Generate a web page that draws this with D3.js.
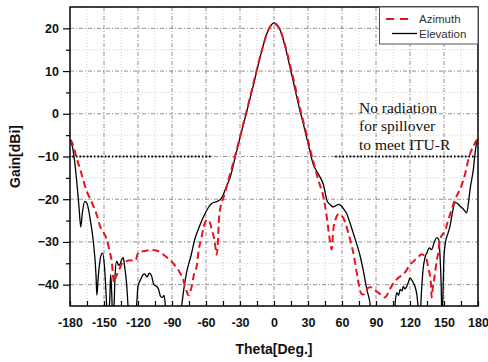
<!DOCTYPE html>
<html>
<head>
<meta charset="utf-8">
<script src="https://cdn.jsdelivr.net/npm/d3@7"></script>
<style>
  html, body { margin: 0; padding: 0; background: #fff; }
  svg { display: block; }
</style>
</head>
<body>
<svg id="chart" width="488" height="362"></svg>
<script>
// ---------- data ----------
const xTicks = [-180, -150, -120, -90, -60, -30, 0, 30, 60, 90, 120, 150, 180];
const yTicks = [-40, -30, -20, -10, 0, 10, 20];
const seriesNames = ["Azimuth", "Elevation"];

const elevTheta = [-180,-178,-176,-174,-172,-170.5,-169,-167,-165,-162,-159,-157,-156.3,-155,-153,-151.2,-149.5,-148,-147,-145,-144.1,-143.2,-142.3,-141,-140.3,-138.8,-137,-135.5,-134.4,-133,-132,-130,-128.5,-127,-123,-121,-120,-118,-115.3,-114,-112,-110,-108,-106,-104,-102,-100,-98.5,-97,-96,-95,-83,-81.5,-79,-77,-73,-70,-66,-62,-58,-55,-50,-47,-44.7,-42,-38.8,-34.4,-30,-24,-18,-12.4,-6.5,-3,0,2,5.3,8,11.2,14,17,20,23,26,28.8,31.5,34.7,37.6,40,43.5,47,49.4,52,54,57,59,62,64,67,70,73,76,79,82,84.5,86,106,107,108.3,110,111.2,113,114,115.5,116.5,118.5,120,121.5,123,124.5,126,127.5,128.5,130.5,131.5,133.2,135,137,139,141.4,143.5,145.3,146.5,147.5,148.2,149.3,150,151.8,153.5,155.3,157.5,159.7,162,164,167,170,171.5,173,175.9,177.5,179,180];
const elevGain = [-6,-7.5,-11,-16,-22,-26.5,-23,-20.5,-21,-25,-31,-38,-42.5,-38,-33.5,-32.6,-36,-43,-48,-44,-37.6,-42,-48,-44,-38.3,-34.5,-35.5,-35,-34.1,-33.7,-35.3,-40,-46,-48,-48,-44,-40.3,-39,-37.6,-37.5,-38.2,-37.3,-38,-40,-40.3,-41,-42.8,-43,-42.5,-44.5,-48,-48,-45,-40,-37,-33,-29.5,-26.5,-24,-22,-21,-20.5,-20,-18.9,-17,-15,-10.3,-5.6,0.6,6.9,13.1,18.6,20.6,21.3,21,19.7,17.5,14.3,11,7.6,4,0.6,-2.5,-5.6,-8.5,-11.9,-13.4,-14.5,-16.5,-20.5,-21.2,-21.8,-21.6,-21.2,-21.5,-22.5,-23.3,-25.5,-28,-30.5,-33.3,-37,-41.2,-44,-47,-47,-44,-41.9,-42.5,-41.1,-41.5,-40.4,-41,-40.7,-39.5,-38.4,-38.9,-39.6,-40.5,-42.3,-46,-48,-40,-36.5,-33.7,-32.5,-31.4,-31.8,-30.1,-29,-29.4,-33.3,-40,-48,-40,-33.3,-29.4,-28,-26.3,-23,-20.8,-21,-21.6,-22.3,-23.2,-21,-17.7,-13,-9,-6.5,-6];

const aziTheta = [-180,-178,-176,-174,-171,-168,-165.3,-162,-159.4,-156,-153.5,-150,-147.6,-144.7,-143.2,-142,-141.2,-140,-137.4,-135,-133,-130,-127,-124,-122,-120.5,-119,-116,-112,-108,-104,-100,-96,-92,-89,-86,-83,-80.5,-78.5,-76.5,-75.6,-74,-72.6,-70.5,-68.2,-66.5,-64,-62,-60,-58,-56.5,-54.5,-53,-51.5,-50.5,-49.5,-48.5,-47,-44.7,-42,-40,-37,-35,-32,-30,-27,-24,-21,-18,-15,-12,-9,-6,-3,0,3,6,9,12,15,18,21,24,27,30,33,36,39,41.5,43.5,45,46.5,48,49.5,50.9,52.3,54,55.3,57,58.2,61.2,63.5,65.6,68,70,71.5,73,74.5,76,77.5,79,81,83.3,85.5,87.7,90,93.6,96,98,100,102.4,104.5,106.8,110,114,117,120,123,126,128.5,130.3,133.2,134.7,136.2,137.6,138.5,139.1,140,142,143.5,144.9,146.5,148.5,150.9,153,155.3,157.5,159.7,162,164.1,166.5,168.5,170,171.5,173.5,175.9,178.8,180];
const aziGain = [-6,-6.8,-8.5,-10.5,-13,-15.8,-18.1,-20,-21.6,-24,-26.3,-28,-29.4,-32.6,-34.5,-38,-39.5,-38.5,-37,-35.5,-34.7,-34.5,-34.3,-34.4,-34.3,-33,-32.3,-32.2,-32,-31.9,-32,-32.5,-33.3,-34.2,-35,-36,-37.2,-38.5,-40.4,-42,-42.5,-41.8,-40.4,-37.5,-35.7,-32,-29,-26.5,-25,-24.8,-25.5,-27.5,-29,-31.5,-33,-30,-24.5,-21.6,-19.7,-17.3,-15.3,-12.5,-10.5,-7.5,-5.5,-2.3,0.8,4,7.3,10.5,13.6,16.5,19,20.6,21.1,20.6,19.3,16.8,13.8,10.5,7.2,3.5,0.2,-3,-6.2,-9.5,-12.5,-15.4,-17.5,-19.3,-21.5,-24,-27.1,-30,-31.8,-27.1,-25,-24,-23.5,-23.6,-24.4,-26,-27.9,-30.3,-32.6,-34.8,-37.2,-39.5,-41.5,-42.2,-42.3,-41.5,-40.7,-40.6,-41,-41.5,-42.2,-42.8,-43,-42.3,-41,-40,-39.2,-38.3,-37.6,-36.6,-35.3,-34.6,-33.7,-33.2,-32.9,-33.4,-34.1,-36.2,-37.8,-40,-43,-41,-37.5,-34.5,-32.6,-29.4,-28.3,-27.5,-25.5,-23.6,-21.8,-20.1,-18.8,-17.7,-16,-14.2,-12.5,-10.7,-9,-7.6,-6.2,-6];

const limitLevel = -10;
const limitRanges = [[-178, -54], [54, 178]];
const noteLines = ["No radiation", "for spillover", "to meet ITU-R"];

// ---------- layout ----------
const svg = d3.select("#chart");
const L = 70, R = 478, T = 7, B = 306;
const x = d3.scaleLinear().domain([-180, 180]).range([L, R]);
const y = d3.scaleLinear().domain([-45, 25]).range([B, T]);

svg.append("defs").append("clipPath").attr("id", "plotclip")
  .append("rect").attr("x", L).attr("y", T).attr("width", R - L).attr("height", B - T);

// minor grid
const gMinor = svg.append("g");
d3.range(-165, 180, 30).forEach(v => {
  gMinor.append("line").attr("x1", x(v)).attr("x2", x(v)).attr("y1", T).attr("y2", B)
    .attr("stroke", "#c4c4c4").attr("stroke-width", 0.8).attr("stroke-dasharray", "1,2");
});
d3.range(-35, 25, 10).forEach(v => {
  gMinor.append("line").attr("x1", L).attr("x2", R).attr("y1", y(v)).attr("y2", y(v))
    .attr("stroke", "#c4c4c4").attr("stroke-width", 0.8).attr("stroke-dasharray", "1,2");
});
// major grid
const gMajor = svg.append("g");
xTicks.slice(1, -1).forEach(v => {
  gMajor.append("line").attr("x1", x(v)).attr("x2", x(v)).attr("y1", T).attr("y2", B)
    .attr("stroke", "#777").attr("stroke-width", 0.8).attr("stroke-dasharray", "4,2,1,2");
});
yTicks.forEach(v => {
  gMajor.append("line").attr("x1", L).attr("x2", R).attr("y1", y(v)).attr("y2", y(v))
    .attr("stroke", "#777").attr("stroke-width", 0.8).attr("stroke-dasharray", "4,2,1,2");
});

// limit dotted lines
limitRanges.forEach(r => {
  svg.append("line").attr("x1", x(r[0])).attr("x2", x(r[1]))
    .attr("y1", y(limitLevel)).attr("y2", y(limitLevel))
    .attr("stroke", "#000").attr("stroke-width", 2.2).attr("stroke-dasharray", "1.6,2");
});

// curves
const line = d3.line().x(d => x(d[0])).y(d => y(d[1])).curve(d3.curveMonotoneX);
const plot = svg.append("g").attr("clip-path", "url(#plotclip)");
plot.append("path").datum(d3.zip(elevTheta, elevGain)).attr("d", line)
  .attr("fill", "none").attr("stroke", "#000").attr("stroke-width", 1.3);
plot.append("path").datum(d3.zip(aziTheta, aziGain)).attr("d", line)
  .attr("fill", "none").attr("stroke", "#e8141c").attr("stroke-width", 2)
  .attr("stroke-dasharray", "7,4");

// axes
const xAxis = d3.axisBottom(x).tickValues(d3.range(-180, 181, 15)).tickSize(-5)
  .tickFormat(d => xTicks.includes(d) ? d : "");
const gx = svg.append("g").attr("transform", `translate(0,${B})`).call(xAxis);
gx.select(".domain").remove();
gx.selectAll(".tick line").attr("stroke", "#000").attr("stroke-width", 1.2);
gx.selectAll(".tick text").attr("y", 12).attr("dy", "0.71em")
  .style("font-family", "Arial, 'Liberation Sans', sans-serif")
  .style("font-weight", "bold").style("font-size", "12.5px").attr("fill", "#111");

const yAxis = d3.axisLeft(y).tickValues(yTicks).tickSize(7).tickPadding(4);
const gy = svg.append("g").attr("transform", `translate(${L},0)`).call(yAxis);
gy.select(".domain").remove();
gy.selectAll(".tick line").attr("stroke", "#000").attr("stroke-width", 1.2);
gy.selectAll(".tick text")
  .style("font-family", "Arial, 'Liberation Sans', sans-serif")
  .style("font-weight", "bold").style("font-size", "12.5px").attr("fill", "#111");
const yMinor = d3.axisLeft(y).tickValues(d3.range(-35, 25, 10)).tickSize(4).tickFormat("");
const gym = svg.append("g").attr("transform", `translate(${L},0)`).call(yMinor);
gym.select(".domain").remove();
gym.selectAll(".tick line").attr("stroke", "#000").attr("stroke-width", 1.2);

// frame
svg.append("rect").attr("x", L).attr("y", T).attr("width", R - L).attr("height", B - T)
  .attr("fill", "none").attr("stroke", "#000").attr("stroke-width", 1.5);

// axis titles
svg.append("text").attr("x", (L + R) / 2).attr("y", 354).attr("text-anchor", "middle")
  .style("font-family", "Arial, 'Liberation Sans', sans-serif").style("font-weight", "bold")
  .style("font-size", "14px").attr("fill", "#111").text("Theta[Deg.]");
svg.append("text").attr("transform", `translate(20,${(T + B) / 2}) rotate(-90)`)
  .attr("text-anchor", "middle")
  .style("font-family", "Arial, 'Liberation Sans', sans-serif").style("font-weight", "bold")
  .style("font-size", "14px").attr("fill", "#111").text("Gain[dBi]");

// annotation
const note = svg.append("text")
  .style("font-family", "'Liberation Serif', 'Times New Roman', serif")
  .style("font-size", "15.5px").attr("fill", "#111");
noteLines.forEach((t, i) => {
  note.append("tspan").attr("x", 359).attr("y", 112.5 + i * 18.5).text(t);
});

// legend
const lg = svg.append("g");
lg.append("rect").attr("x", 379.5).attr("y", T).attr("width", R - 379.5).attr("height", 37)
  .attr("fill", "#fff").attr("stroke", "#555").attr("stroke-width", 1);
lg.append("line").attr("x1", 386).attr("x2", 410).attr("y1", 19).attr("y2", 19)
  .attr("stroke", "#e8141c").attr("stroke-width", 2).attr("stroke-dasharray", "8,6");
lg.append("line").attr("x1", 392).attr("x2", 417).attr("y1", 33.5).attr("y2", 33.5)
  .attr("stroke", "#000").attr("stroke-width", 1.3);
seriesNames.forEach((n, i) => {
  lg.append("text").attr("x", 419).attr("y", 23 + i * 14.5)
    .style("font-family", "Arial, 'Liberation Sans', sans-serif")
    .style("font-size", "11.5px").attr("fill", "#333").text(n);
});
</script>
</body>
</html>
